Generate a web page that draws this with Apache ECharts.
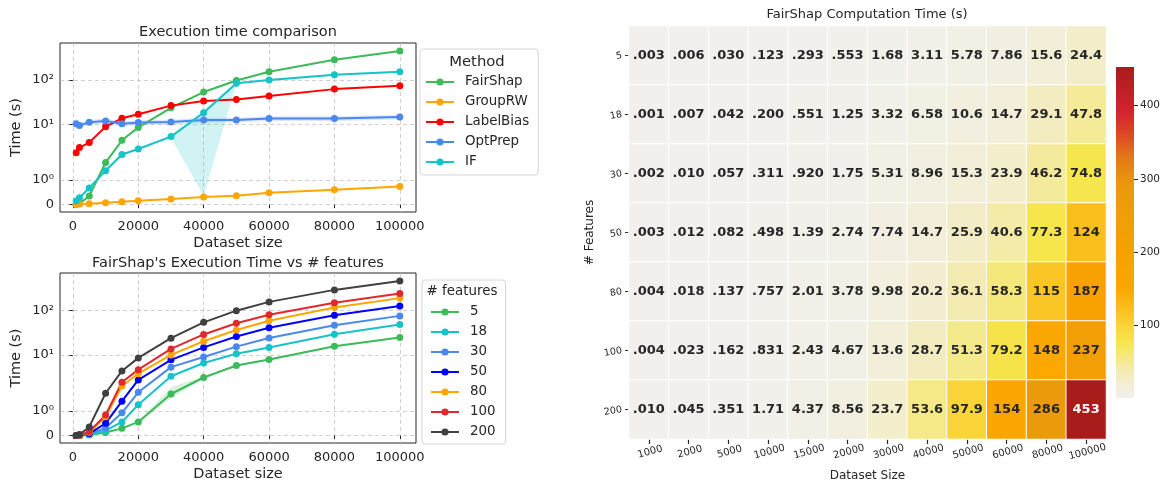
<!DOCTYPE html>
<html>
<head>
<meta charset="utf-8">
<script src="https://cdn.jsdelivr.net/npm/echarts@6/dist/echarts.min.js"></script>
<style>
html,body{margin:0;padding:0;background:#fff;}
#c{width:1166px;height:487px;}
</style>
</head>
<body>
<div id="c"></div>
<script>
// ---------- DATA ----------
const sizes = [1000, 2000, 5000, 10000, 15000, 20000, 30000, 40000, 50000, 60000, 80000, 100000];
const featureLabels = ['5', '18', '30', '50', '80', '100', '200'];

// FairShap computation time (s) per # features (heatmap rows)
const feat5   = [0.003, 0.006, 0.030, 0.123, 0.293, 0.553, 1.68, 3.11, 5.78, 7.86, 15.6, 24.4];
const feat18  = [0.001, 0.007, 0.042, 0.200, 0.551, 1.25, 3.32, 6.58, 10.6, 14.7, 29.1, 47.8];
const feat30  = [0.002, 0.010, 0.057, 0.311, 0.920, 1.75, 5.31, 8.96, 15.3, 23.9, 46.2, 74.8];
const feat50  = [0.003, 0.012, 0.082, 0.498, 1.39, 2.74, 7.74, 14.7, 25.9, 40.6, 77.3, 124];
const feat80  = [0.004, 0.018, 0.137, 0.757, 2.01, 3.78, 9.98, 20.2, 36.1, 58.3, 115, 187];
const feat100 = [0.004, 0.023, 0.162, 0.831, 2.43, 4.67, 13.6, 28.7, 51.3, 79.2, 148, 237];
const feat200 = [0.010, 0.045, 0.351, 1.71, 4.37, 8.56, 23.7, 53.6, 97.9, 154, 286, 453];

// Method comparison (s)
const fairShap  = feat200;
const groupRW   = [0.01, 0.027, 0.04, 0.08, 0.12, 0.16, 0.23, 0.31, 0.36, 0.48, 0.61, 0.74];
const labelBias = [2.3, 3.0, 3.9, 8.9, 13.7, 17.0, 26.5, 33.5, 36.5, 43.5, 62.4, 74.2];
const optPrep   = [10.3, 9.5, 11.2, 12.0, 10.3, 11.0, 11.3, 12.5, 12.5, 13.6, 13.6, 14.6];
const ifTime    = [0.15, 0.28, 0.68, 1.38, 2.1, 2.78, 5.3, 18.3, 85, 99.6, 131, 153];

// shaded bands (lower / upper)
const optPrepLo = [9.0, 8.3, 9.9, 10.6, 9.1, 9.7, 10.0, 11.0, 11.0, 12.0, 12.0, 12.9];
const optPrepHi = [11.7, 10.8, 12.6, 13.5, 11.6, 12.4, 12.7, 14.1, 14.1, 15.3, 15.3, 16.4];
const ifLo      = [0.13, 0.26, 0.62, 1.3, 2.0, 2.65, 5.0, 0.36, 82, 95, 125, 147];
const ifHi      = [0.17, 0.30, 0.74, 1.46, 2.2, 2.9, 5.6, 22, 88, 104, 137, 159];
const feat5Lo   = [0.003, 0.006, 0.028, 0.115, 0.27, 0.52, 1.5, 2.95, 5.55, 7.6, 15.0, 23.5];
const feat5Hi   = [0.003, 0.006, 0.032, 0.131, 0.31, 0.59, 1.95, 3.3, 6.0, 8.1, 16.2, 25.3];

const yTickValues = [0, 1, 10, 100];
const yTickLabels = ['0', '10\u2070', '10\u00b9', '10\u00b2'];
const xTickValues = [0, 20000, 40000, 60000, 80000, 100000];
const cbTicks = [100, 200, 300, 400];

// ---------- helpers ----------
const LT = 2, LS = 1 / (1 - 1 / 10);
function symlog(v) {
  const a = Math.abs(v), s = Math.sign(v);
  return a <= LT ? v * LS : s * LT * (LS + Math.log10(a / LT));
}
const FONT = "'DejaVu Sans', sans-serif";
const TXT = '#262626';

function fmt(v) {
  if (v < 1) return v.toFixed(3).replace(/^0/, '');
  return v >= 100 ? String(Math.round(v)) : v.toPrecision(3);
}

// colour map anchors
const cmapAnchors = [
  [0, '#f2f0ec'], [20, '#f3eed2'], [45, '#f4eaa0'], [75, '#f6e64c'], [95, '#f9d83c'],
  [150, '#fba600'], [200, '#f6a100'], [290, '#eb9a0c'], [330, '#e47818'],
  [360, '#dd4a24'], [390, '#d6232f'], [453, '#a81c1c']
];
const VMIN = 0, VMAX = 453;
function hex2rgb(h) { return [1,3,5].map(i => parseInt(h.substr(i, 2), 16)); }
function cmapAt(v) {
  for (let i = 0; i < cmapAnchors.length - 1; i++) {
    const [v0, c0] = cmapAnchors[i], [v1, c1] = cmapAnchors[i + 1];
    if (v <= v1) {
      const t = (v - v0) / (v1 - v0);
      const a = hex2rgb(c0), b = hex2rgb(c1);
      return 'rgb(' + a.map((x, k) => Math.round(x + (b[k] - x) * t)).join(',') + ')';
    }
  }
  return cmapAnchors[cmapAnchors.length - 1][1];
}
const NC = 61;
const cmapColors = [];
for (let i = 0; i < NC; i++) cmapColors.push(cmapAt(VMIN + (VMAX - VMIN) * i / (NC - 1)));

// ---------- layout ----------
const g1 = { left: 60, top: 43, width: 356, height: 169 };
const g2 = { left: 60, top: 273, width: 356, height: 170 };
const g3 = { left: 629, top: 26, width: 477, height: 414 };
const g4 = { left: 1116, top: 67, width: 18, height: 331 };

function lineAxesX(gi) {
  return {
    type: 'value', gridIndex: gi, min: -3950, max: 104950,
    name: 'Dataset size', nameLocation: 'middle', nameGap: 24,
    nameTextStyle: { fontFamily: FONT, fontSize: 14.5, color: TXT },
    axisLine: { show: false },
    axisTick: { show: true, length: 3.5, lineStyle: { color: TXT }, customValues: xTickValues },
    axisLabel: { fontFamily: FONT, fontSize: 13, color: TXT, margin: 8, customValues: xTickValues, formatter: v => String(v) },
    splitLine: { show: true, lineStyle: { color: '#c4c4c4', type: [4, 3], width: 0.8 } }
  };
}
function lineAxesY(gi) {
  const cv = yTickValues.map(symlog);
  return {
    type: 'value', gridIndex: gi, min: -0.33, max: 7.29,
    name: 'Time (s)', nameLocation: 'middle', nameGap: 36,
    nameTextStyle: { fontFamily: FONT, fontSize: 14.5, color: TXT },
    axisLine: { show: false },
    axisTick: { show: true, length: 3.5, lineStyle: { color: TXT }, customValues: cv },
    axisLabel: {
      fontFamily: FONT, fontSize: 13, color: TXT, margin: 6, customValues: cv,
      formatter: v => {
        let best = 0;
        cv.forEach((c, i) => { if (Math.abs(c - v) < Math.abs(cv[best] - v)) best = i; });
        return yTickLabels[best];
      }
    },
    splitLine: { show: true, lineStyle: { color: '#c4c4c4', type: [4, 3], width: 0.8 } }
  };
}

function lineSeries(name, vals, color, axisIdx) {
  return {
    name, type: 'line', xAxisIndex: axisIdx, yAxisIndex: axisIdx,
    data: sizes.map((x, i) => [x, symlog(vals[i])]),
    symbol: 'circle', symbolSize: 7, showSymbol: true,
    lineStyle: { color, width: 2 }, itemStyle: { color },
    emphasis: { disabled: true }, z: 3
  };
}
function bandSeries(lo, hi, color, axisIdx) {
  return {
    type: 'custom', xAxisIndex: axisIdx, yAxisIndex: axisIdx, silent: true, z: 1,
    data: sizes.map((x, i) => [x, symlog(lo[i]), symlog(hi[i])]),
    encode: { x: 0, y: [1, 2] },
    renderItem: (params, api) => {
      if (params.dataIndex !== 0) return null;
      const top = sizes.map((x, i) => api.coord([x, symlog(hi[i])]));
      const bot = sizes.map((x, i) => api.coord([x, symlog(lo[i])])).reverse();
      return { type: 'polygon', shape: { points: top.concat(bot) }, style: { fill: color, opacity: 0.2 } };
    }
  };
}

const topSeries = [
  ['FairShap', fairShap, '#3dba5a'],
  ['GroupRW', groupRW, '#ffa500'],
  ['LabelBias', labelBias, '#ff0000'],
  ['OptPrep', optPrep, '#4a88ee'],
  ['IF', ifTime, '#17c3c8']
];
const botSeries = [
  ['5', feat5, '#3dba5a'],
  ['18', feat18, '#17c3c8'],
  ['30', feat30, '#4a88ee'],
  ['50', feat50, '#0000ff'],
  ['80', feat80, '#ffa500'],
  ['100', feat100, '#e0282e'],
  ['200', feat200, '#404040']
];

const heatRows = [feat5, feat18, feat30, feat50, feat80, feat100, feat200];
const heatData = [];
heatRows.forEach((row, r) => row.forEach((v, c) => {
  heatData.push({ value: [c, r, v], label: { color: v > 400 ? '#ffffff' : TXT } });
}));

const series = [];
series.push(bandSeries(optPrepLo, optPrepHi, '#4a88ee', 0));
series.push(bandSeries(ifLo, ifHi, '#17c3c8', 0));
series.push(bandSeries(feat5Lo, feat5Hi, '#3dba5a', 1));
topSeries.forEach(s => series.push(lineSeries(s[0], s[1], s[2], 0)));
botSeries.forEach(s => series.push(lineSeries(s[0], s[1], s[2], 1)));
const heatIndex = series.length;
series.push({
  type: 'heatmap', xAxisIndex: 2, yAxisIndex: 2, data: heatData,
  itemStyle: { borderColor: '#ffffff', borderWidth: 1 },
  label: {
    show: true, fontFamily: FONT, fontSize: 13, fontWeight: 'bold',
    formatter: p => fmt(p.value[2])
  },
  emphasis: { disabled: true }
});
series.push({
  type: 'bar', xAxisIndex: 3, yAxisIndex: 3, data: [VMAX], barWidth: '100%', silent: true,
  itemStyle: {
    color: {
      type: 'linear', x: 0, y: 1, x2: 0, y2: 0,
      colorStops: cmapColors.map((c, i) => ({ offset: i / (NC - 1), color: c }))
    }
  }
});

const legendCommon = {
  orient: 'vertical', itemWidth: 28, itemHeight: 9, itemGap: 6,
  backgroundColor: '#ffffff', borderColor: '#d6d6d6', borderWidth: 1, borderRadius: 3,
  textStyle: { fontFamily: FONT, fontSize: 13.4, color: TXT, lineHeight: 14, padding: [0, 0, 0, 6] },
  selectedMode: false
};

const option = {
  animation: false,
  backgroundColor: '#ffffff',
  grid: [
    Object.assign({ show: true, borderColor: '#262626', borderWidth: 1, backgroundColor: 'transparent' }, g1),
    Object.assign({ show: true, borderColor: '#262626', borderWidth: 1, backgroundColor: 'transparent' }, g2),
    Object.assign({ show: false }, g3),
    Object.assign({ show: false }, g4)
  ],
  xAxis: [
    lineAxesX(0), lineAxesX(1),
    {
      type: 'category', gridIndex: 2, data: sizes.map(String), position: 'bottom',
      name: 'Dataset Size', nameLocation: 'middle', nameGap: 31,
      nameTextStyle: { fontFamily: FONT, fontSize: 12, color: TXT },
      axisLine: { show: true, onZero: false, lineStyle: { color: 'rgba(0,0,0,0)' } },
      axisTick: { show: true, alignWithLabel: true, interval: 0, inside: false, length: 5, lineStyle: { color: '#262626', width: 1.2 } },
      axisLabel: { fontFamily: FONT, fontSize: 10, color: TXT, rotate: 15, interval: 0, margin: 8, align: 'center', verticalAlign: 'top' },
      splitLine: { show: false }
    },
    { type: 'category', gridIndex: 3, data: ['c'], show: false }
  ],
  yAxis: [
    lineAxesY(0), lineAxesY(1),
    {
      type: 'category', gridIndex: 2, data: featureLabels, inverse: true,
      name: '# Features', nameLocation: 'middle', nameGap: 33,
      nameTextStyle: { fontFamily: FONT, fontSize: 12, color: TXT },
      axisLine: { show: false },
      axisTick: { show: true, alignWithLabel: true, interval: 0, length: 4, lineStyle: { color: '#333333' } },
      axisLabel: { fontFamily: FONT, fontSize: 9.5, color: TXT, rotate: 10, interval: 0, margin: 7 },
      splitLine: { show: false }
    },
    {
      type: 'value', gridIndex: 3, min: VMIN, max: VMAX, position: 'right',
      axisLine: { show: false },
      axisTick: { show: true, length: 4, lineStyle: { color: TXT }, customValues: cbTicks },
      axisLabel: { fontFamily: FONT, fontSize: 10.5, color: TXT, margin: 6, customValues: cbTicks },
      splitLine: { show: false }
    }
  ],
  visualMap: {
    type: 'continuous', show: false, min: VMIN, max: VMAX, seriesIndex: heatIndex,
    inRange: { color: cmapColors }
  },
  legend: [
    Object.assign({}, legendCommon, {
      left: 420, top: 49, padding: [26, 9, 6, 5],
      data: topSeries.map(s => s[0])
    }),
    Object.assign({}, legendCommon, {
      left: 422, top: 280, padding: [25, 10, 5, 8],
      data: botSeries.map(s => s[0])
    })
  ],
  graphic: [
    { type: 'text', x: 238, y: 32, style: { text: 'Execution time comparison', font: '14.5px ' + FONT, fill: TXT, textAlign: 'center', textVerticalAlign: 'middle' } },
    { type: 'text', x: 238, y: 263, style: { text: "FairShap's Execution Time vs # features", font: '14.5px ' + FONT, fill: TXT, textAlign: 'center', textVerticalAlign: 'middle' } },
    { type: 'text', x: 867, y: 15, style: { text: 'FairShap Computation Time (s)', font: '13px ' + FONT, fill: TXT, textAlign: 'center', textVerticalAlign: 'middle' } },
    { type: 'text', x: 477, y: 62, z: 100, style: { text: 'Method', font: '14.8px ' + FONT, fill: TXT, textAlign: 'center', textVerticalAlign: 'middle' } },
    { type: 'text', x: 462, y: 292, z: 100, style: { text: '# features', font: '13.4px ' + FONT, fill: TXT, textAlign: 'center', textVerticalAlign: 'middle' } }
  ],
  series
};

const chart = echarts.init(document.getElementById('c'), null, { renderer: 'canvas' });
chart.setOption(option);
</script>
</body>
</html>
